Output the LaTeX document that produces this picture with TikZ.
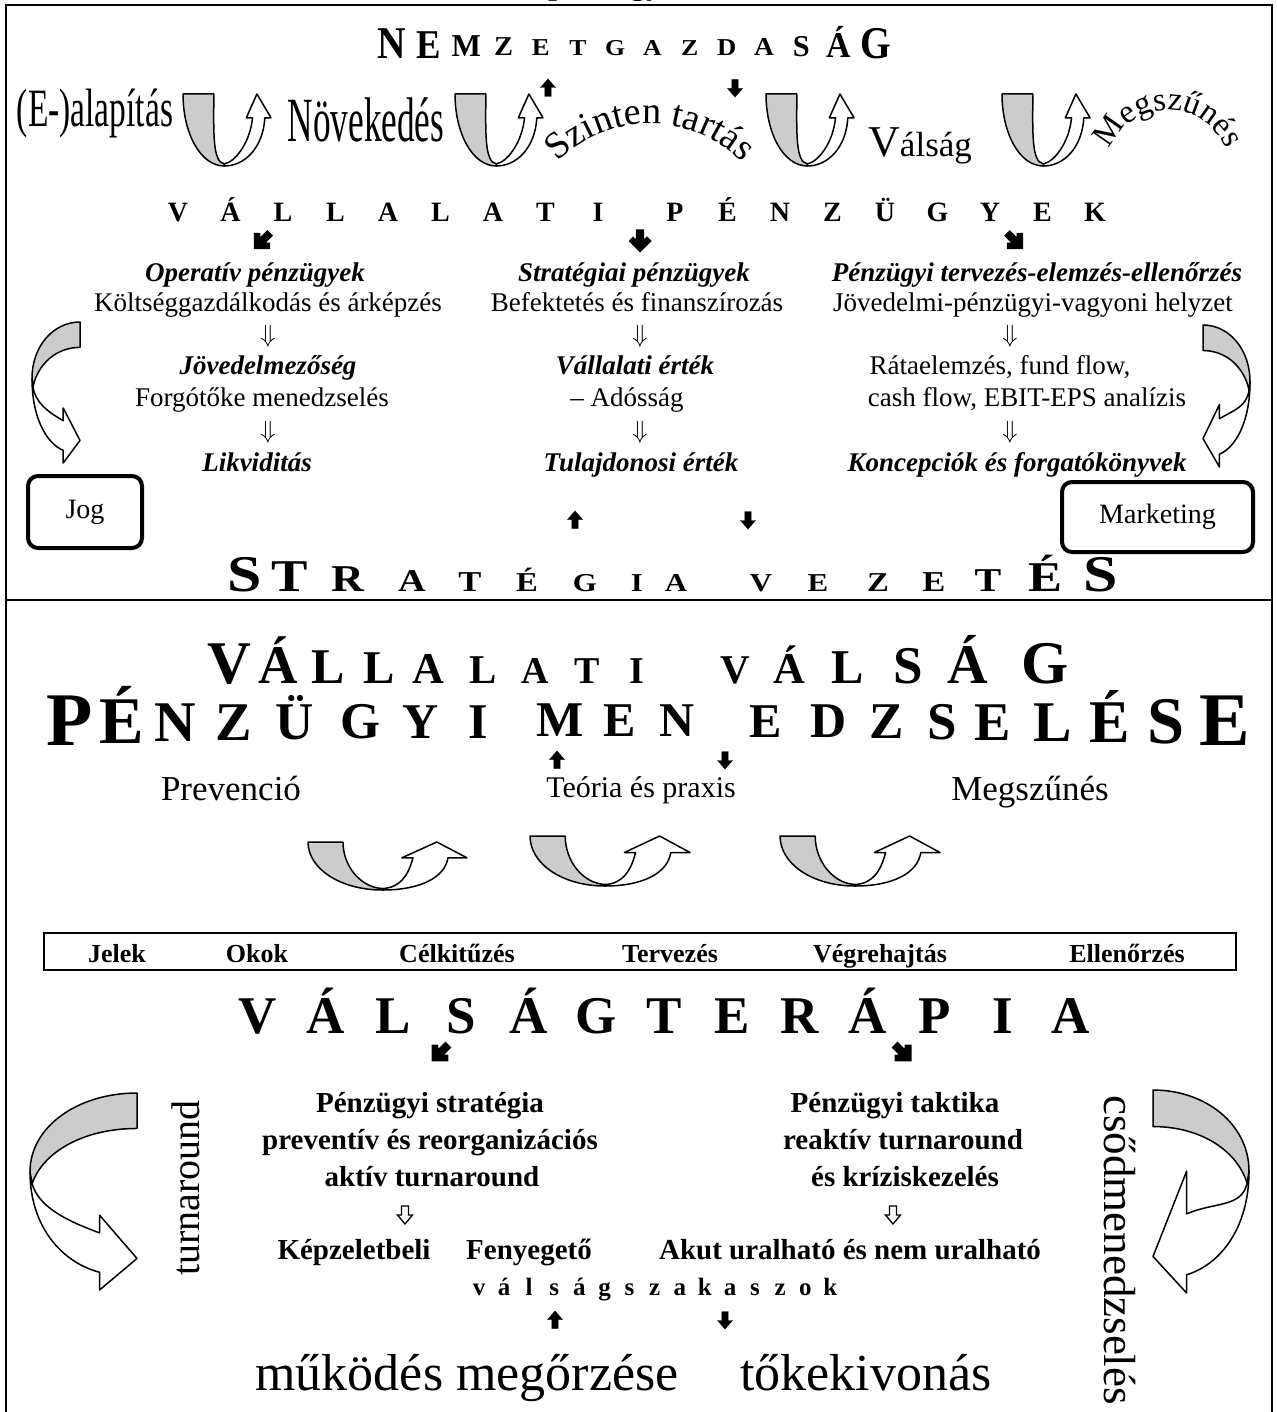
\documentclass[tikz,border=0pt]{standalone}
\usepackage{fontspec}
\usepackage{graphicx}
\setmainfont{Liberation Serif}
\usetikzlibrary{decorations.text}
\definecolor{ribbongray}{gray}{0.80}

\tikzset{
  every node/.style={inner sep=0pt},
  frameline/.style={line width=2.4pt, line join=miter},
  ribbon/.style={draw=black, line width=1.5pt, line join=round},
  blockarrow/.style={fill=black, draw=black, line width=0.4pt},
  hollowarrow/.style={fill=white, draw=black, line width=1.3pt, line join=miter},
  plain/.style={anchor=base, font=\fontsize{27}{32}\selectfont},
  emph/.style={anchor=base, font=\fontsize{27}{32}\selectfont\bfseries\itshape},
  boldtxt/.style={anchor=base, font=\fontsize{29}{34}\selectfont\bfseries},
  sidebox/.style={draw, line width=4pt, rounded corners=10pt, font=\fontsize{28}{28}\selectfont},
}

% curved ribbon arrow on the side: x, y, width (negative = mirrored), height,
% head top corner, body upper edge, tip height (all relative)
\newcommand\sidearrow[7]{%
  \begin{scope}[shift={(#1,#2)}, xscale=#3, yscale=#4]
    \filldraw[ribbon, fill=white] (0,0.40) .. controls (0,0.68) and (0.30,0.86) .. (0.65,0.91)
      -- (0.65,1) -- (1,#7) -- (0.65,#5) -- (0.65,#6)
      .. controls (0.35,#6-0.06) and (0.08,0.58) .. (0.02,0.46) -- cycle;
    \filldraw[ribbon, fill=ribbongray] (1,0) .. controls (0.45,0) and (0,0.17) .. (0,0.40)
      -- (0.02,0.46) .. controls (0.12,0.30) and (0.50,0.18) .. (1,0.18) -- cycle;
  \end{scope}}

% U-turn ribbon arrow: x, y, width, height, arm width, head left, body inner, body outer, tip x
\newcommand\uturn[9]{%
  \begin{scope}[shift={(#1,#2)}, xscale=#3, yscale=#4]
    \filldraw[ribbon, fill=white] (0.47,1) .. controls (0.70,1) and (#8-0.02,0.75) .. (#8,0.33)
      -- (1,0.33) -- (#9,0) -- (#6,0.33) -- (#7,0.33)
      .. controls (#7-0.03,0.70) and (0.58,0.95) .. (0.47,0.97) -- cycle;
    \filldraw[ribbon, fill=ribbongray] (0,0) -- (#5,0) .. controls (#5,0.50) and (0.33,0.95) .. (0.47,0.97)
      -- (0.47,1) .. controls (0.20,1) and (0,0.55) .. (0,0) -- cycle;
  \end{scope}}

% small filled block arrows
\newcommand\blockup[2]{%
  \begin{scope}[shift={(#1,#2)}]
    \filldraw[blockarrow] (0,-9) -- (7.5,-0.5) -- (3.2,-0.5) -- (3.2,8.5) -- (-3.2,8.5) -- (-3.2,-0.5) -- (-7.5,-0.5) -- cycle;
  \end{scope}}
\newcommand\blockdown[2]{%
  \begin{scope}[shift={(#1,#2)}, yscale=-1]
    \filldraw[blockarrow] (0,-9) -- (7.5,-0.5) -- (3.2,-0.5) -- (3.2,8.5) -- (-3.2,8.5) -- (-3.2,-0.5) -- (-7.5,-0.5) -- cycle;
  \end{scope}}

% heavy chevron arrow: x, y, rotation, scale
\newcommand\heavyarrow[4]{%
  \begin{scope}[shift={(#1,#2)}, rotate=#3, scale=#4]
    \fill (0,10) -- (10,0) -- (6,-4) -- (3.5,-1.5) -- (3.5,-10) -- (-3.5,-10) -- (-3.5,-1.5) -- (-6,-4) -- (-10,0) -- cycle;
  \end{scope}}

% outlined down arrow
\newcommand\hollowdown[2]{%
  \begin{scope}[shift={(#1,#2)}]
    \filldraw[hollowarrow] (-3.5,-9) -- (3.5,-9) -- (3.5,0) -- (7.5,0) -- (0,9) -- (-7.5,0) -- (-3.5,0) -- cycle;
  \end{scope}}

\begin{document}
\begin{tikzpicture}[x=1pt, y=-1pt]
\useasboundingbox (0,0) rectangle (1276,1412);

% ---------- frame ----------
\draw[frameline] (6,1412) -- (6,5) -- (1272,5) -- (1272,1412);
\draw[frameline] (6,600) -- (1272,600);
\node[anchor=base west, font=\fontsize{32}{32}\selectfont\bfseries] (headline) at (548,-5) {pénzügyi};

% ---------- upper half: life cycle ----------
\foreach \ch/\h [count=\i from 0] in {N/30,E/27,M/21,Z/18,E/16,T/15,G/15,A/15,Z/15,D/16,A/17,S/20,Á/24,G/30}{
  \pgfmathsetmacro\fs{\h/0.66}
  \pgfmathsetmacro\sx{0.6+8/\h}
  \pgfmathsetmacro\xx{392+37.2*\i}
  \pgfmathsetmacro\yy{44+(30-\h)*0.25+\h/2}
  \node[anchor=base, font=\fontsize{\fs}{\fs}\selectfont\bfseries] (nemz-\i) at (\xx,\yy) {\scalebox{\sx}[1]{\ch}};
}
\blockup{548}{88}
\blockdown{735}{88}

\node[anchor=base] (alapitas) at (95,127) {\scalebox{0.62}[1]{\fontsize{54}{54}\selectfont (E-)alapítás}};
\node[anchor=base] (novekedes) at (366,142) {\scalebox{0.56}[1]{\fontsize{63}{63}\selectfont Növekedés}};
\path[decorate, decoration={text along path, text align=center,
      text={|\fontsize{38}{38}\selectfont|Szinten tartás}}]
  (551.9,168.3) arc[start angle=221, end angle=319, radius=130];
\node[anchor=base west] (valsag) at (868,157) {\fontsize{44}{44}\selectfont V\fontsize{35}{35}\selectfont álság};
\path[decorate, decoration={text along path, text align=center,
      text={|\fontsize{33}{33}\selectfont|Megszűnés}}]
  (1106,172) arc[start angle=180, end angle=360, radius=62];

\uturn{183}{94}{88}{72}{0.35}{0.72}{0.79}{0.93}{0.84}
\uturn{455}{94}{88}{72}{0.35}{0.72}{0.79}{0.93}{0.84}
\uturn{766}{94}{88}{72}{0.35}{0.72}{0.79}{0.93}{0.84}
\uturn{1002}{94}{88}{72}{0.35}{0.72}{0.79}{0.93}{0.84}

% corporate finance heading
\foreach \ch [count=\i from 0] in {V,Á,L,L,A,L,A,T,I}{
  \node[anchor=base, font=\fontsize{28}{28}\selectfont\bfseries] (vp-a\i) at (178+52.5*\i,222) {\ch};
}
\foreach \ch [count=\i from 0] in {P,É,N,Z,Ü,G,Y,E,K}{
  \node[anchor=base, font=\fontsize{28}{28}\selectfont\bfseries] (vp-b\i) at (675+52.5*\i,222) {\ch};
}
\heavyarrow{262}{241}{-45}{1.15}
\heavyarrow{640}{241}{0}{1.15}
\heavyarrow{1015}{241}{45}{1.15}

% three columns
\node[emph]  (op1) at (255,282) {Operatív pénzügyek};
\node[plain] (op2) at (268,312) {Költséggazdálkodás és árképzés};
\node[plain] (op3) at (268,342) {$\Downarrow$};
\node[emph]  (op4) at (268,374) {Jövedelmezőség};
\node[plain] (op5) at (262,406) {Forgótőke menedzselés};
\node[plain] (op6) at (268,438) {$\Downarrow$};
\node[emph]  (op7) at (257,471) {Likviditás};

\node[emph]  (st1) at (634,282) {Stratégiai pénzügyek};
\node[plain] (st2) at (637,312) {Befektetés és finanszírozás};
\node[plain] (st3) at (640,342) {$\Downarrow$};
\node[emph]  (st4) at (635,374) {Vállalati érték};
\node[plain] (st5) at (627,406) {– Adósság};
\node[plain] (st6) at (640,438) {$\Downarrow$};
\node[emph]  (st7) at (641,471) {Tulajdonosi érték};

\node[emph]  (pt1) at (1037,282) {Pénzügyi tervezés-elemzés-ellenőrzés};
\node[plain] (pt2) at (1033,312) {Jövedelmi-pénzügyi-vagyoni helyzet};
\node[plain] (pt3) at (1010,342) {$\Downarrow$};
\node[plain] (pt4) at (1000,374) {Rátaelemzés, fund flow,};
\node[plain] (pt5) at (1027,406) {cash flow, EBIT-EPS analízis};
\node[plain] (pt6) at (1010,438) {$\Downarrow$};
\node[emph]  (pt7) at (1017,471) {Koncepciók és forgatókönyvek};

\sidearrow{32}{322}{48}{141}{0.61}{0.70}{0.84}
\sidearrow{1250}{325}{-47}{142}{0.56}{0.66}{0.80}

\node[sidebox, minimum width=114pt, minimum height=72pt] (jog) at (85,512) {Jog};
\node[sidebox, minimum width=191pt, minimum height=70pt] (marketing) at (1157.5,517) {Marketing};

\blockup{575}{520}
\blockdown{748}{520}

\foreach \ch/\x/\h [count=\i] in {S/245/34,T/290/30,R/348/25,A/412/21,T/470/19,É/527/18,G/585/17,I/637/17,A/676/17,
                                   V/761/17,E/818/17,Z/878/18,E/934/19,T/988/22,É/1045/28,S/1101/34}{
  \pgfmathsetmacro\fs{\h/0.66}
  \node[anchor=base, font=\fontsize{\fs}{\fs}\selectfont\bfseries] (sv-\i) at (\x,591) {\scalebox{1.2}[1]{\ch}};
}

% ---------- lower half: crisis management ----------
\foreach \ch/\x/\h [count=\i] in {V/229/40,Á/278/36,L/328/33,L/379/31,A/428/29,L/483/27,A/535/25,T/587/25,I/637/25,
                                   V/735/27,Á/789/29,L/848/32,S/908/35,Á/968/37,G/1045/40}{
  \pgfmathsetmacro\fs{\h/0.66}
  \node[anchor=base, font=\fontsize{\fs}{\fs}\selectfont\bfseries] (vv-\i) at (\x,683) {\ch};
}
\foreach \ch/\x/\h/\b [count=\i] in {P/70/50/745,É/122/44/743,N/175/38/741,Z/234/36/740,Ü/295/35/739,G/361/34/738,
                                      Y/421/33/738,I/478/33/738,M/560/33/736,E/620/32/736,N/677/32/736,E/766/32/737,
                                      D/829/33/737,Z/887/34/738,S/942/35/739,E/993/36/740,L/1053/38/741,É/1110/40/742,
                                      S/1166/44/743,E/1225/50/745}{
  \pgfmathsetmacro\fs{\h/0.66}
  \node[anchor=base, font=\fontsize{\fs}{\fs}\selectfont\bfseries] (pm-\i) at (\x,\b) {\ch};
}
\blockup{557}{760}
\blockdown{725}{760}

\node[anchor=base, font=\fontsize{35}{35}\selectfont] (prevencio) at (231,800) {Prevenció};
\node[anchor=base, font=\fontsize{30}{30}\selectfont] (teoria) at (641,797) {Teória és praxis};
\node[anchor=base, font=\fontsize{35}{35}\selectfont] (megszunes2) at (1030,800) {Megszűnés};

\uturn{308}{842}{159}{48}{0.22}{0.59}{0.66}{0.88}{0.81}
\uturn{530}{836}{160}{50}{0.22}{0.59}{0.66}{0.88}{0.81}
\uturn{780}{836}{160}{50}{0.22}{0.59}{0.66}{0.88}{0.81}

\node[draw, line width=2pt, minimum width=1192pt, minimum height=37pt] (phases) at (640,951.5) {};
\foreach \lbl/\x [count=\i] in {Jelek/117,Okok/257,Célkitűzés/457,Tervezés/670,Végrehajtás/880,Ellenőrzés/1127}{
  \node[anchor=base, font=\fontsize{26}{26}\selectfont\bfseries] (ph-\i) at (\x,962) {\lbl};
}

\foreach \ch [count=\i from 0] in {V,Á,L,S,Á,G,T,E,R,Á,P,I,A}{
  \node[anchor=base, font=\fontsize{53}{53}\selectfont\bfseries] (vt-\i) at (258+67.7*\i,1033) {\ch};
}
\heavyarrow{440}{1053}{-45}{1.2}
\heavyarrow{903}{1053}{45}{1.2}

\node[boldtxt] (ls1) at (430,1112) {Pénzügyi stratégia};
\node[boldtxt] (ls2) at (430,1149) {preventív és reorganizációs};
\node[boldtxt] (ls3) at (432,1186) {aktív turnaround};
\hollowdown{405}{1215}
\node[boldtxt] (rs1) at (895,1112) {Pénzügyi taktika};
\node[boldtxt] (rs2) at (903,1149) {reaktív turnaround};
\node[boldtxt] (rs3) at (905,1186) {és kríziskezelés};
\hollowdown{893}{1215}

\node[boldtxt] (st-a) at (354,1259) {Képzeletbeli};
\node[boldtxt] (st-b) at (529,1259) {Fenyegető};
\node[boldtxt] (st-c) at (850,1259) {Akut uralható és nem uralható};
\foreach \ch [count=\i from 0] in {v,á,l,s,á,g,s,z,a,k,a,s,z,o,k}{
  \node[anchor=base, font=\fontsize{25}{25}\selectfont\bfseries] (vs-\i) at (479+25.1*\i,1295) {\ch};
}
\blockup{555}{1320}
\blockdown{725}{1320}

\node[anchor=base, font=\fontsize{52}{52}\selectfont] (mukodes) at (467,1390) {működés megőrzése};
\node[anchor=base, font=\fontsize{52}{52}\selectfont] (tokekivonas) at (866,1390) {tőkekivonás};

\node[rotate=90, font=\fontsize{40}{40}\selectfont] (turnaround) at (186,1188) {turnaround};
\node[rotate=-90, font=\fontsize{45}{45}\selectfont] (csod) at (1120,1250) {csődmenedzselés};

\sidearrow{30}{1093}{107}{197}{0.62}{0.71}{0.84}
\sidearrow{1249}{1090}{-96}{203}{0.40}{0.61}{0.82}
\end{tikzpicture}
\end{document}
